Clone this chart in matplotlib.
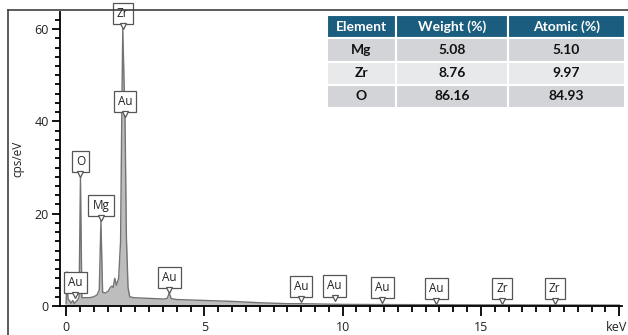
import matplotlib
matplotlib.use("Agg")
import matplotlib.pyplot as plt
from matplotlib.patches import Rectangle
from matplotlib.lines import Line2D
from matplotlib.transforms import offset_copy, ScaledTranslation

# ---- EDS spectrum (energy in keV, intensity in cps/eV) ----
energy_kev = [0.00, 0.03, 0.07, 0.12, 0.18, 0.24, 0.30, 0.36, 0.42, 0.47,
              0.52, 0.57, 0.70, 0.85, 1.00, 1.12, 1.20, 1.26, 1.32, 1.42,
              1.52, 1.60, 1.65, 1.70, 1.76, 1.82, 1.90, 1.97, 2.02, 2.05,
              2.09, 2.13, 2.18, 2.24, 2.30, 2.45, 2.80, 3.20, 3.55, 3.66,
              3.73, 3.80, 4.00, 4.50, 5.00, 6.00, 7.00, 8.00, 8.50, 9.50,
              10.0, 12.0, 15.0, 20.0]
cps_per_ev = [0.5, 7.4, 1.5, 1.2, 0.6, 1.2, 0.5, 1.0, 1.3, 2.0,
              28.0, 1.8, 1.8, 1.8, 2.0, 2.4, 3.5, 18.4, 3.0, 2.8,
              3.2, 4.0, 4.3, 4.0, 6.0, 4.5, 6.0, 14.0, 45.0, 60.0,
              50.0, 41.0, 15.0, 4.0, 2.0, 1.8, 1.7, 1.6, 1.5, 1.7,
              2.8, 1.6, 1.4, 1.3, 1.2, 1.0, 0.7, 0.5, 0.5, 0.4,
              0.35, 0.3, 0.25, 0.2]

# ---- peak identification labels ----
peak_names = ["Au", "O", "Mg", "Zr", "Au", "Au", "Au", "Au", "Au", "Au", "Zr", "Zr"]
peak_energy = [0.33, 0.52, 1.26, 2.05, 2.13, 3.73, 8.49, 9.71, 11.44, 13.38, 15.77, 17.67]
peak_height = [1.8, 28.0, 18.4, 60.0, 41.0, 2.8, 0.9, 1.0, 0.6, 0.5, 0.5, 0.5]

# ---- quantification table ----
table_header = ["Element", "Weight (%)", "Atomic (%)"]
table_elements = ["Mg", "Zr", "O"]
weight_pct = ["5.08", "8.76", "86.16"]
atomic_pct = ["5.10", "9.97", "84.93"]

W, H = 628, 335
fig = plt.figure(figsize=(W / 100, H / 100), dpi=100)
fig.patch.set_facecolor("white")

tick_font = "Open Sans"

ax = fig.add_axes([60 / W, 1 - 306 / H, (622 - 60) / W, (306 - 12) / H])
ax.set_xlim(-0.22, 20.1)
ax.set_ylim(0, 63.7)

ax.fill_between(energy_kev, cps_per_ev, 0, color="#bdbdbd", lw=0, zorder=2)
ax.plot(energy_kev, cps_per_ev, color="#737373", lw=1.0, zorder=3)

for s in ("top", "right"):
    ax.spines[s].set_visible(False)
for s in ("left", "bottom"):
    ax.spines[s].set_linewidth(1.3)
    ax.spines[s].set_color("black")
    ax.spines[s].set_zorder(5)

ax.set_xticks([0, 5, 10, 15, 20])
ax.set_xticklabels(["0", "5", "10", "15", "keV"])
ax.set_xticks([x * 0.5 for x in range(41)], minor=True)
ax.set_yticks([0, 20, 40, 60])
ax.set_yticks(list(range(0, 64, 2)), minor=True)
ax.tick_params(axis="x", which="major", length=7.5, width=1.3, pad=3, labelsize=9)
ax.tick_params(axis="x", which="minor", length=4.5, width=1.3)
ax.tick_params(axis="y", which="major", length=6, width=1.3, pad=2, labelsize=9)
ax.tick_params(axis="y", which="minor", length=3.5, width=1.3)
for lab in ax.get_xticklabels() + ax.get_yticklabels():
    lab.set_fontfamily(tick_font)
    lab.set_color("#222222")
# keep the unit label inside the canvas
kev_label = ax.get_xticklabels()[-1]
kev_label.set_transform(kev_label.get_transform()
                        + ScaledTranslation(-3 / 100, 0, fig.dpi_scale_trans))
ax.set_ylabel("cps/eV", fontsize=8.5, fontfamily=tick_font, color="#222222")
ax.yaxis.set_label_coords(-0.064, 0.5)

# peak labels: boxed text with a small downward pointer
for name, e, h in zip(peak_names, peak_energy, peak_height):
    ax.annotate(name, xy=(e, h), xytext=(0, 9), textcoords="offset pixels",
                ha="center", va="bottom", fontsize=8.5, fontfamily=tick_font,
                color="#222222", zorder=6,
                bbox=dict(boxstyle="square,pad=0.35", fc="white", ec="#555555", lw=0.9))
    tr = offset_copy(ax.transData, fig=fig, x=0, y=3, units="dots")
    ax.plot([e], [h], marker="v", ms=4.5, mfc="white", mec="#555555", mew=0.9,
            transform=tr, zorder=7, clip_on=False)

# quantification table
tax = fig.add_axes([327 / W, 1 - 108 / H, (625 - 327) / W, (108 - 15) / H])
tax.set_xlim(0, 1)
tax.set_ylim(0, 1)
tax.axis("off")
col_edges = [0.0, 0.2315, 0.6073, 1.0]
n_rows = len(table_elements) + 1
row_h = 1.0 / n_rows
header_color = "#1b5d7e"
band_colors = ["#d2d4d8", "#e8e9eb", "#d2d4d8"]
table_font = "Lato"

rows = [table_header] + [list(r) for r in zip(table_elements, weight_pct, atomic_pct)]
for i, row in enumerate(rows):
    y0 = 1 - (i + 1) * row_h
    for j, txt in enumerate(row):
        x0, x1 = col_edges[j], col_edges[j + 1]
        fc = header_color if i == 0 else band_colors[i - 1]
        tax.add_patch(Rectangle((x0, y0), x1 - x0, row_h, fc=fc, ec="white", lw=1.5))
        tax.text((x0 + x1) / 2, y0 + row_h / 2, txt, ha="center", va="center",
                 fontsize=10, fontweight="bold", fontfamily=table_font,
                 color="white" if i == 0 else "#111111")

# outer frame (top and left edges)
fig.add_artist(Line2D([8 / W, 1.0], [1 - 10 / H, 1 - 10 / H], color="#404040", lw=1.2))
fig.add_artist(Line2D([8 / W, 8 / W], [1 - 10 / H, 0.0], color="#404040", lw=1.2))

fig.savefig("out.png", dpi=100, facecolor="white")
